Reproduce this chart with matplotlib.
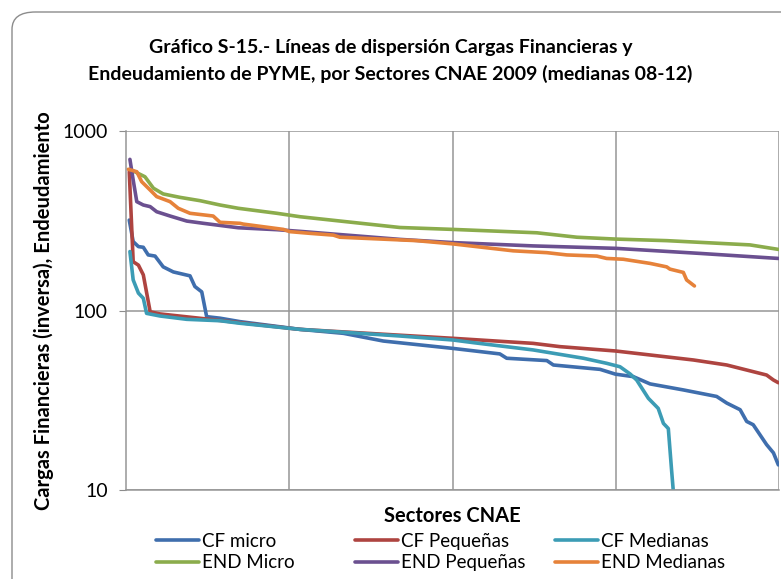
import matplotlib
matplotlib.use("Agg")
import matplotlib.pyplot as plt
from matplotlib.patches import FancyBboxPatch

plt.rcParams['font.family'] = ['Lato', 'DejaVu Sans']

# ---- datos (rango de sector, mediana) ----
cf_micro_x = [1.0, 2.2, 3.8, 5.3, 6.8, 8.9, 11.4, 14.5, 19.6, 21.1, 23.2, 24.7, 28.8, 34.9,
              53.3, 66.6, 78.8, 100.1, 114.5, 116.6, 128.9, 130.9, 145.2, 149.9, 155.4,
              160.5, 170.7, 180.9, 184.0, 188.1, 190.1, 192.1, 196.2, 198.3, 199.8]
cf_micro_y = [319, 242, 227, 225, 204, 201, 175, 164, 156, 136, 127, 92.4, 90.6, 86.7,
              78.5, 74.6, 67.6, 61.5, 57.3, 54.2, 52.6, 49.7, 47, 44.2, 42.8,
              39, 36.1, 33.2, 30.5, 28, 24.1, 23.1, 17.9, 16.1, 13.8]

cf_peq_x = [1.0, 2.2, 3.8, 5.3, 7.4, 10.4, 28.8, 50.2, 53.3, 100.1, 124.7, 132.9, 149.9,
            173.8, 184.0, 196.2, 198.3, 199.8]
cf_peq_y = [593, 187, 179, 158, 98.4, 95.7, 88, 79.6, 78.5, 70, 65.6, 62.9, 59.5,
            53, 49.7, 43.7, 41, 39.6]

cf_med_x = [1.2, 2.2, 3.8, 5.3, 6.3, 10.4, 18.6, 28.8, 34.9, 53.3, 83.9, 100.1, 106.4,
            124.7, 140.1, 147.2, 151.3, 154.4, 156.4, 160.0, 163.0, 164.6, 166.1, 167.1, 167.6]
cf_med_y = [213, 148, 125, 117, 96.4, 93.2, 89.3, 87.7, 84.9, 78.5, 72.1, 68.5, 66.2,
            60.3, 54.2, 50.8, 48.6, 44.3, 41, 32.4, 28.5, 23.5, 22, 12.9, 10]

end_micro_x = [1.2, 5.8, 8.4, 11.4, 16.5, 22.7, 28.8, 34.4, 46.2, 53.3, 83.9, 100.1,
               125.8, 138.1, 149.9, 165.6, 191.1, 199.8]
end_micro_y = [612, 556, 480, 446, 427, 409, 387, 371, 348, 333, 290, 283,
               271, 256, 250, 245, 232, 219]

end_peq_x = [1.2, 2.2, 3.3, 5.3, 7.4, 9.4, 13.5, 18.6, 23.7, 34.4, 46.2, 53.3, 83.9,
             100.1, 124.7, 149.9, 175.8, 199.8]
end_peq_y = [695, 533, 404, 387, 379, 355, 336, 315, 306, 289, 282, 276, 249,
             239, 229, 222, 208, 195]

end_med_x = [0.7, 3.3, 4.8, 7.4, 9.4, 13.5, 16.0, 19.6, 26.7, 28.8, 34.9, 35.9, 48.2,
             50.2, 56.4, 63.5, 65.5, 89.0, 100.1, 118.6, 128.9, 135.0, 144.2, 147.2,
             152.3, 160.5, 165.6, 166.6, 170.7, 171.7, 174.1]
end_med_y = [612, 593, 522, 469, 431, 404, 371, 348, 336, 310, 306, 303, 283,
             275, 269, 263, 256, 245, 235, 215, 210, 204, 201, 195,
             193, 183, 175, 170, 163, 148, 137]

series = [
    ("CF micro", cf_micro_x, cf_micro_y, "#3F6EAD"),
    ("CF Pequeñas", cf_peq_x, cf_peq_y, "#AE4440"),
    ("CF Medianas", cf_med_x, cf_med_y, "#3C9CB5"),
    ("END Micro", end_micro_x, end_micro_y, "#8BAC4C"),
    ("END Pequeñas", end_peq_x, end_peq_y, "#6B5090"),
    ("END Medianas", end_med_x, end_med_y, "#E6823A"),
]

fig = plt.figure(figsize=(7.81, 5.79), dpi=100)

# marco redondeado del area del grafico (cortado a la derecha y abajo)
frame = FancyBboxPatch((12 / 781, -0.1), 1.2, 1.1 - 12 / 579,
                       boxstyle="round,pad=0,rounding_size=0.03",
                       transform=fig.transFigure, fc="white", ec="#8C8C8C", lw=1.0,
                       zorder=-5)
fig.patches.append(frame)

ax = fig.add_axes([126 / 781, 1 - 490 / 579, (779 - 126) / 781, (490 - 131) / 579])
ax.patch.set_alpha(0)

lines = {}
for name, xs, ys, col in series:
    lines[name], = ax.plot(xs, ys, color=col, lw=2.6, label=name, solid_joinstyle="round",
                           solid_capstyle="round")

ax.set_yscale("log")
ax.set_ylim(10, 1000)
ax.set_xlim(0, 200)
ax.set_yticks([10, 100, 1000])
ax.set_yticklabels(["10", "100", "1000"])
ax.minorticks_off()
ax.set_xticks([50, 100, 150, 200])
ax.set_xticklabels([])
ax.tick_params(axis="x", length=0)
ax.tick_params(axis="y", length=5, color="#8C8C8C", labelsize=14, pad=8)
ax.grid(True, color="#969696", lw=1.1)
ax.set_axisbelow(True)
for s in ax.spines.values():
    s.set_color("#969696")
    s.set_linewidth(1.1)
ax.spines["right"].set_visible(False)
ax.spines["top"].set_visible(False)

ax.set_xlabel("Sectores CNAE", fontsize=14.5, fontweight="bold", labelpad=8)
ax.set_ylabel("Cargas Financieras (inversa), Endeudamiento", fontsize=14.5,
              fontweight="bold", labelpad=6)

fig.text(0.5, 1 - 61 / 579,
         "Gráfico S-15.- Líneas de dispersión Cargas Financieras y\n"
         "Endeudamiento de PYME, por Sectores CNAE 2009 (medianas 08-12)",
         ha="center", va="center", fontsize=14, fontweight="bold", linespacing=1.55)

# leyenda: tres columnas fijas como en Excel
col_left = [156, 355, 555]
col_names = [("CF micro", "END Micro"), ("CF Pequeñas", "END Pequeñas"),
             ("CF Medianas", "END Medianas")]
for xl, names in zip(col_left, col_names):
    fig.legend([lines[n] for n in names], names, loc="center left",
               bbox_to_anchor=(xl / 781, 1 - 552 / 579), frameon=False, fontsize=13.5,
               handlelength=2.3, handletextpad=0.15, labelspacing=0.25, borderpad=0,
               borderaxespad=0)

fig.savefig("out.png", dpi=100)
